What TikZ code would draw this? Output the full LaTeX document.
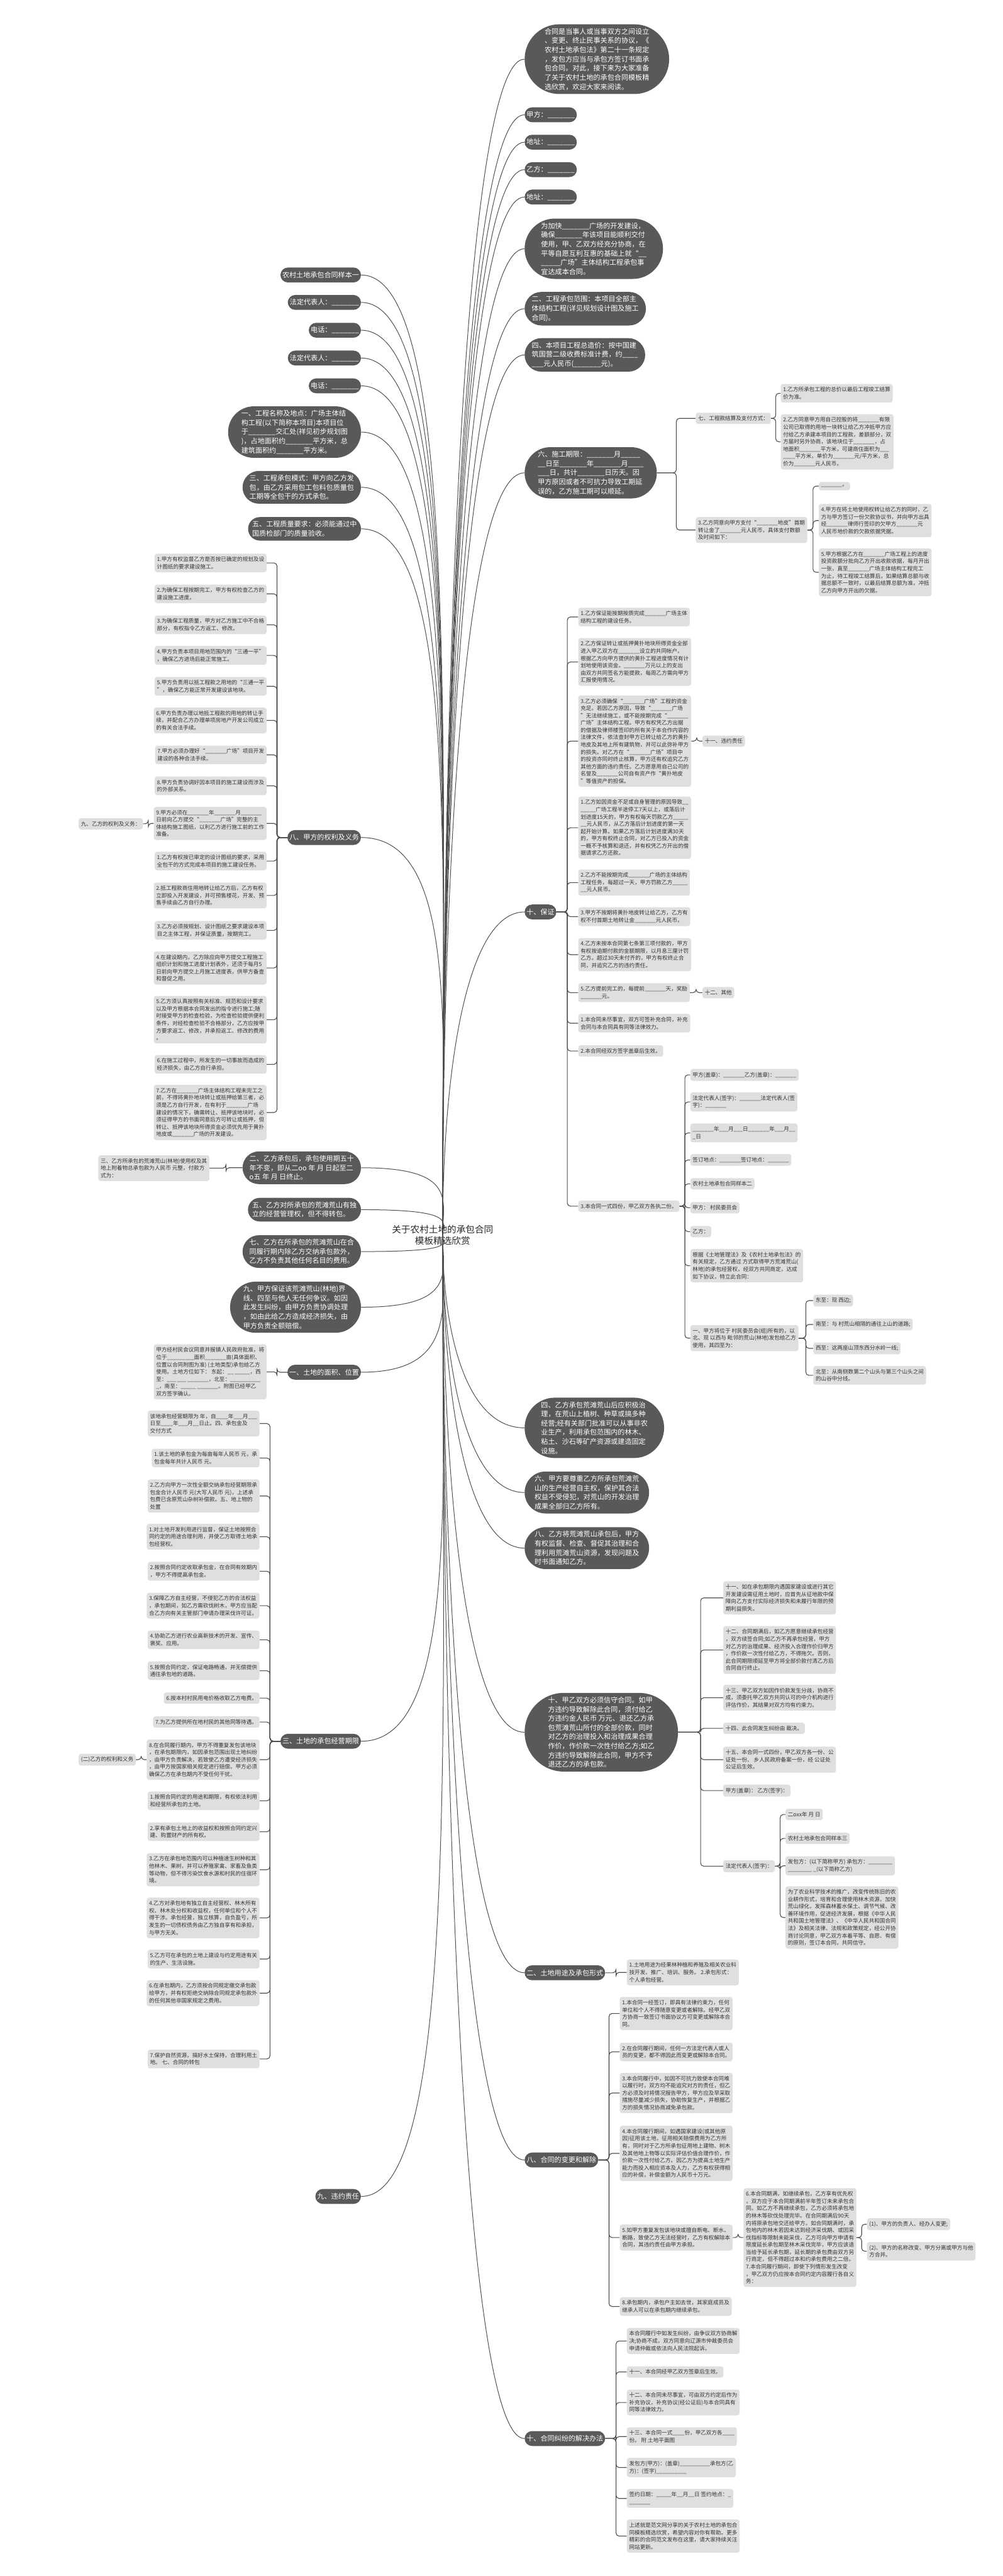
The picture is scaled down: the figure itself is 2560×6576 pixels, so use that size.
\documentclass[tikz,border=0pt]{standalone}
\usepackage{fontspec}
\setmainfont{Noto Sans CJK SC}
\usepackage{xcolor}
\definecolor{mapdark}{HTML}{595959}
\definecolor{mapleaf}{HTML}{DFDFDF}
\definecolor{mapline}{HTML}{4F4F4F}
\definecolor{maptext}{HTML}{333333}
\usepackage{tikz}
\usetikzlibrary{shapes.misc,calc,backgrounds}

\begin{document}
\catcode`\_=12
\begin{tikzpicture}[x=0.5pt,y=-0.5pt,
  rootnode/.style={align=center,text=black!85,font=\fontsize{11.75}{14}\selectfont},
  topic/.style={rounded rectangle,fill=mapdark,text=white,align=left,
    inner xsep=1.5pt,inner ysep=5pt,minimum height=19pt,
    font=\fontsize{8.9}{11.75}\selectfont},
  leaf/.style={rectangle,rounded corners=3pt,fill=mapleaf,text=maptext,
    align=left,inner xsep=3pt,inner ysep=4pt,font=\fontsize{6.9}{9.3}\selectfont},
  link/.style={draw=mapline,line width=0.9pt,rounded corners=4pt},
  rcurve/.style={draw=mapline,line width=0.8pt,to path={let \p1=(\tikztostart),\p2=(\tikztotarget) in
    .. controls (\x1,{0.5*\y1+0.5*\y2}) and ({\x2-75pt},\y2) .. (\tikztotarget)}},
  lcurve/.style={draw=mapline,line width=0.8pt,to path={let \p1=(\tikztostart),\p2=(\tikztotarget) in
    .. controls (\x1,{0.5*\y1+0.5*\y2}) and ({\x2+125pt},\y2) .. (\tikztotarget)}}]
\useasboundingbox (0,0) rectangle (2560,6576);

% centre
\node[rootnode] (root) at (1130,3153) {关于农村土地的承包合同\\模板精选欣赏};

% right topics
\node[topic,anchor=west] (r1) at (1339,151) {合同是当事人或当事双方之间设立\\、变更、终止民事关系的协议，《\\农村土地承包法》第二十一条规定\\，发包方应当与承包方签订书面承\\包合同。对此，接下来为大家准备\\了关于农村土地的承包合同模板精\\选欣赏，欢迎大家来阅读。};
\node[topic,anchor=west] (r2) at (1339,293) {甲方：_______};
\node[topic,anchor=west] (r3) at (1339,363) {地址：_______};
\node[topic,anchor=west] (r4) at (1339,433) {乙方：_______};
\node[topic,anchor=west] (r5) at (1339,503) {地址：_______};
\node[topic,anchor=west] (r6) at (1339,635) {为加快_______广场的开发建设，\\确保_______年该项目能顺利交付\\使用，甲、乙双方经充分协商，在\\平等自愿互利互惠的基础上就“__\\_____广场”主体结构工程承包事\\宜达成本合同。};
\node[topic,anchor=west] (r7) at (1339,788) {二、工程承包范围：本项目全部主\\体结构工程(详见规划设计图及施工\\合同)。};
\node[topic,anchor=west] (r8) at (1339,906) {四、本项目工程总造价：按中国建\\筑国营二级收费标准计费，约____\\___元人民币(_______元)。};
\node[topic,anchor=west] (r9) at (1339,1207) {六、施工期限：_______月_____\\__日至_______年_______月____\\___日，共计_______日历天。因\\甲方原因或者不可抗力导致工期延\\误的，乙方施工期可以顺延。};
\node[topic,anchor=west] (r10) at (1339,2328) {十、保证};
\node[topic,anchor=west] (r11) at (1339,3645) {四、乙方承包荒滩荒山后应积极治\\理，在荒山上植树、种草或搞多种\\经营;经有关部门批准可以从事非农\\业生产，利用承包范围内的林木、\\粘土、沙石等矿产资源或建造固定\\设施。};
\node[topic,anchor=west] (r12) at (1339,3810) {六、甲方要尊重乙方所承包荒滩荒\\山的生产经营自主权，保护其合法\\权益不受侵犯，对荒山的开发治理\\成果全部归乙方所有。};
\node[topic,anchor=west] (r13) at (1339,3952) {八、乙方将荒滩荒山承包后，甲方\\有权监督、检查、督促其治理和合\\理利用荒滩荒山资源，发现问题及\\时书面通知乙方。};
\node[topic,anchor=west] (r14) at (1339,4422) {十、甲乙双方必须信守合同。如甲\\方违约导致解除此合同，须付给乙\\方违约金人民币 万元、退还乙方承\\包荒滩荒山所付的全部价款，同时\\对乙方的治理投入和治理成果合理\\作价，作价款一次性付给乙方;如乙\\方违约导致解除此合同，甲方不予\\退还乙方的承包款。};
\node[topic,anchor=west] (r15) at (1339,5036) {二、土地用途及承包形式};
\node[topic,anchor=west] (r16) at (1339,5514) {八、合同的变更和解除};
\node[topic,anchor=west] (r17) at (1339,6225) {十、合同纠纷的解决办法};

% 六 children
\node[leaf,anchor=west] (r9a) at (1776,1068) {七、工程款结算及支付方式：};
\node[leaf,anchor=west] (r9a1) at (1993,1004) {1.乙方所承包工程的总价以最后工程竣工结算\\价为准。};
\node[leaf,anchor=west] (r9a2) at (1993,1128) {2.乙方同意甲方用自己控股的将_______有限\\公司已取得的用地一块转让给乙方冲抵甲方应\\付给乙方承建本项目的工程款，差额部分，双\\方届时另外协商，该地块位于_______，占\\地面积_______平方米，可建商住面积为___\\____平方米，单价为_______元/平方米，总\\价为_______元人民币。};
\node[leaf,anchor=west] (r9b) at (1776,1353) {3.乙方同意向甲方支付“_______地皮”首期\\转让金了_______元人民币，具体支付数额\\及时间如下：};
\node[leaf,anchor=west] (r9b1) at (2090,1241) {_______。};
\node[leaf,anchor=west] (r9b2) at (2090,1329) {4.甲方在将土地使用权转让给乙方的同时，乙\\方与甲方签订一份欠款协议书，并向甲方出具\\经_______律师行签印的欠甲方_______元\\人民币地价款的欠款依据凭据。};
\node[leaf,anchor=west] (r9b3) at (2090,1461) {5.甲方根据乙方在_______广场工程上的进度\\投资款额分批向乙方开出收款收据，每月开出\\一张，直至_______广场主体结构工程完工\\为止，待工程竣工结算后，如果结算总额与收\\据总额不一致时，以最后结算总额为准，冲抵\\乙方向甲方开出的欠据。};

% 十、保证 children
\node[leaf,anchor=west] (r10c1) at (1476,1575) {1.乙方保证能按期按质完成_______广场主体\\结构工程的建设任务。};
\node[leaf,anchor=west] (r10c2) at (1476,1690) {2.乙方保证转让或抵押黄扑地块所得资金全部\\进入甲乙双方在_______设立的共同帐户。\\根据乙方向甲方提供的黄扑工程进度情况有计\\划地使用该资金。_______万元以上的支出\\由双方共同签名方能提款，每周乙方需向甲方\\汇报使用情况。};
\node[leaf,anchor=west] (r10c3) at (1476,1892) {3.乙方必须确保“_______广场”工程的资金\\充足。若因乙方原因，导致“_______广场\\”无法继续施工，或不能按期完成“_______\\广场”主体结构工程。甲方有权凭乙方出据\\的借据及律师楼签印的所有关于本合作内容的\\法律文件，依法查封甲方已转让给乙方的黄扑\\地皮及其地上所有建筑物，并可以此弥补甲方\\的损失。对乙方在“_______广场”项目中\\的投资亦同时终止核算，甲方还有权追究乙方\\其他方面的违约责任。乙方愿意用自己公司的\\名誉及_______公司自有资产作“黄扑地皮\\”等值资产的担保。};
\node[leaf,anchor=west] (r10c3x) at (1793,1892) {十一、违约责任};
\node[leaf,anchor=west] (r10c4) at (1476,2113) {1.乙方如因资金不足或自身管理的原因导致__\\_____广场工程半途停工7天以上，或落后计\\划进度15天的，甲方有权每天罚款乙方_____\\__元人民币，从乙方落后计划进度的第一天\\起开始计算。如果乙方落后计划进度满30天\\的，甲方有权终止合同，对乙方已投入的资金\\一概不予核算和退还，并有权凭乙方开出的借\\据请求乙方还款。};
\node[leaf,anchor=west] (r10c5) at (1476,2253) {2.乙方不能按期完成_______广场的主体结构\\工程任务，每超过一天，甲方罚款乙方_____\\__元人民币。};
\node[leaf,anchor=west] (r10c6) at (1476,2340) {3.甲方不按期将黄扑地皮转让给乙方，乙方有\\权不付首期土地转让金_______元人民币。};
\node[leaf,anchor=west] (r10c7) at (1476,2437) {4.乙方未按本合同第七条第三项付款的，甲方\\有权按逾期付款的金额期限，以月息三厘计罚\\乙方。超过30天未付齐的，甲方有权终止合\\同，并追究乙方的违约责任。};
\node[leaf,anchor=west] (r10c8) at (1476,2534) {5.乙方提前完工的，每提前_______天，奖励\\_______元。};
\node[leaf,anchor=west] (r10c8x) at (1793,2534) {十二、其他};
\node[leaf,anchor=west] (r10c9) at (1476,2612) {1.本合同未尽事宜，双方可签补充合同，补充\\合同与本合同具有同等法律效力。};
\node[leaf,anchor=west] (r10c10) at (1476,2683) {2.本合同经双方签字盖章后生效。};
\node[leaf,anchor=west] (r10c11) at (1476,3079) {3.本合同一式四份，甲乙双方各执二份。};
\node[leaf,anchor=west] (r10d1) at (1762,2744) {甲方(盖章)：_______乙方(盖章)：_______};
\node[leaf,anchor=west] (r10d2) at (1762,2813) {法定代表人(签字)：_______法定代表人(签\\字)：_______};
\node[leaf,anchor=west] (r10d3) at (1762,2892) {_______年___月___日_______年___月__\\_日};
\node[leaf,anchor=west] (r10d4) at (1762,2961) {签订地点：_______签订地点：_______};
\node[leaf,anchor=west] (r10d5) at (1762,3022) {农村土地承包合同样本二};
\node[leaf,anchor=west] (r10d6) at (1762,3083) {甲方： 村民委员会};
\node[leaf,anchor=west] (r10d7) at (1762,3144) {乙方：};
\node[leaf,anchor=west] (r10d8) at (1762,3231) {根据《土地管理法》及《农村土地承包法》的\\有关规定，乙方通过 方式取得甲方荒滩荒山(\\林地)的承包经营权，经双方共同商定，达成\\如下协议，特立此合同：};
\node[leaf,anchor=west] (r10d9) at (1762,3416) {一、甲方将位于 村民委员会(组)所有的，以\\北、现 以西与 毗邻的荒山(林地)发包给乙方\\使用，其四至为：};
\node[leaf,anchor=west] (r10e1) at (2076,3320) {东至：现 西边;};
\node[leaf,anchor=west] (r10e2) at (2076,3381) {南至：与 村荒山相隔的通往上山的道路;};
\node[leaf,anchor=west] (r10e3) at (2076,3442) {西至：这两座山顶东西分水岭一线;};
\node[leaf,anchor=west] (r10e4) at (2076,3511) {北至：从南侧数第二个山头与第三个山头之间\\的山谷中分线。};

% 十、甲乙双方 children
\node[leaf,anchor=west] (r14c1) at (1846,4079) {十一、如在承包期限内遇国家建设或进行其它\\开发建设需征用土地时，应首先从征地款中保\\障向乙方支付实际经济损失和未履行年限的预\\期利益损失。};
\node[leaf,anchor=west] (r14c2) at (1846,4212) {十二、合同期满后，如乙方愿意继续承包经营\\，双方续签合同;如乙方不再承包经营，甲方\\对乙方的治理成果、经济投入合理作价归甲方\\，作价款一次性付给乙方，不得拖欠。否则，\\此合同期限顺延至甲方将全部价款付清乙方后\\合同自行终止。};
\node[leaf,anchor=west] (r14c3) at (1846,4334) {十三、甲乙双方如因作价款发生分歧，协商不\\成，须委托甲乙双方共同认可的中介机构进行\\评估作价，其结果对双方均有约束力。};
\node[leaf,anchor=west] (r14c4) at (1846,4412) {十四、此合同发生纠纷由 裁决。};
\node[leaf,anchor=west] (r14c5) at (1846,4492) {十五、本合同一式四份，甲乙双方各一份、公\\证处一份、 乡人民政府备案一份，经 公证处\\公证后生效。};
\node[leaf,anchor=west] (r14c6) at (1846,4571) {甲方(盖章)： 乙方(签字)：};
\node[leaf,anchor=west] (r14c7) at (1846,4764) {法定代表人(签字)：};
\node[leaf,anchor=west] (r14d1) at (2005,4632) {二oxx年 月 日};
\node[leaf,anchor=west] (r14d2) at (2005,4693) {农村土地承包合同样本三};
\node[leaf,anchor=west] (r14d3) at (2005,4763) {发包方：(以下简称甲方) 承包方：________\\________ _(以下简称乙方)};
\node[leaf,anchor=west] (r14d4) at (2005,4895) {为了农业科学技术的推广，改变传统陈旧的农\\业耕作形式，培育和合理使用林木资源，加快\\荒山绿化，发挥森林蓄水保土、调节气候、改\\善环境作用，促进经济发展，根据《中华人民\\共和国土地管理法》、《中华人民共和国合同\\法》及相关法律、法规和政策规定，经公开协\\商讨论同意，甲乙双方本着平等、自愿、有偿\\的原则，签订本合同，共同信守。};

% 二、土地用途 child
\node[leaf,anchor=west] (r15c1) at (1600,5035) {1.土地用途为经果林种植和养殖及相关农业科\\技开发、推广、培训、服务。 2.承包形式：\\个人承包经营。};

% 八、合同的变更和解除 children
\node[leaf,anchor=west] (r16c1) at (1582,5140) {1.本合同一经签订，即具有法律约束力，任何\\单位和个人不得随意变更或者解除。经甲乙双\\方协商一致签订书面协议方可变更或解除本合\\同。};
\node[leaf,anchor=west] (r16c2) at (1582,5238) {2.在合同履行期间，任何一方法定代表人或人\\员的变更，都不得因此而变更或解除本合同。};
\node[leaf,anchor=west] (r16c3) at (1582,5343) {3.本合同履行中，如因不可抗力致使本合同难\\以履行时，双方均不能追究对方的责任，但乙\\方必须及时将情况报告甲方，甲方应及早采取\\措施尽量减少损失，协助恢复生产，并根据乙\\方的损失情况协商减免承包款。};
\node[leaf,anchor=west] (r16c4) at (1582,5497) {4.本合同履行期间，如遇国家建设(或其他原\\因)征用该土地，征用相关赔偿费用为乙方所\\有，同时对于乙方所承包征用地上建物、树木\\及其他地上物等以实际评估价值合理作价，作\\价款一次性付给乙方。因乙方为提高土地生产\\能力而投入相应资本及人力，乙方有权获得相\\应的补偿，补偿金额为人民币十万元。};
\node[leaf,anchor=west] (r16c5) at (1582,5712) {5.如甲方重复发包该地块或擅自断电、断水、\\断路，致使乙方无法经营时，乙方有权解除本\\合同，其违约责任由甲方承担。};
\node[leaf,anchor=west] (r16c5x) at (1898,5712) {6.本合同期满，如继续承包，乙方享有优先权\\，双方应于本合同期满前半年签订未来承包合\\同。如乙方不再继续承包，乙方必须将承包地\\的林木等砍伐处理完毕。在合同期满后90天\\内将原承包地交还给甲方。如合同期满时，承\\包地内的林木若因未达到经济采伐期、或因采\\伐指标等限制未能采伐，乙方可向甲方申请有\\限度延长承包期至林木采伐完毕，甲方应该适\\当给予延长承包期，延长期的承包费由双方另\\行商定，但不得超过本和约承包费用之二倍。\\ 7.本合同履行期间，即使下列情形发生改变\\，甲乙双方仍应按本合同约定内容履行各自义\\务：};
\node[leaf,anchor=west] (r16d1) at (2213,5678) {(1)、甲方的负责人、经办人变更;};
\node[leaf,anchor=west] (r16d2) at (2213,5747) {(2)、甲方的名称改变、甲方分离或甲方与他\\方合并。};
\node[leaf,anchor=west] (r16c6) at (1582,5888) {8.承包期内，承包户主如去世，其家庭成员及\\继承人可以在承包期内继续承包。};

% 十、合同纠纷 children
\node[leaf,anchor=west] (r17c1) at (1600,5976) {本合同履行中如发生纠纷，由争议双方协商解\\决;协商不成，双方同意向辽源市仲裁委员会\\申请仲裁或依法向人民法院起诉。};
\node[leaf,anchor=west] (r17c2) at (1600,6055) {十一、本合同经甲乙双方签章后生效。};
\node[leaf,anchor=west] (r17c3) at (1600,6133) {十二、本合同未尽事宜，可由双方约定后作为\\补充协议，补充协议(经公证后)与本合同具有\\同等法律效力。};
\node[leaf,anchor=west] (r17c4) at (1600,6220) {十三、本合同一式____份，甲乙双方各____\\份。 附 土地平面图};
\node[leaf,anchor=west] (r17c5) at (1600,6299) {发包方(甲方)：(盖章)__________承包方(乙\\方)：(签字)__________};
\node[leaf,anchor=west] (r17c6) at (1600,6378) {签约日期：_____年__月__日 签约地点：_\\_______};
\node[leaf,anchor=west] (r17c7) at (1600,6474) {上述就是范文网分享的关于农村土地的承包合\\同模板精选欣赏，希望内容对你有帮助。更多\\精彩的合同范文发布在这里，请大家持续关注\\网站更新。};

% left topics
\node[topic,anchor=east] (l1) at (922,702) {农村土地承包合同样本一};
\node[topic,anchor=east] (l2) at (922,772) {法定代表人：_______};
\node[topic,anchor=east] (l3) at (922,843) {电话：_______};
\node[topic,anchor=east] (l4) at (922,914) {法定代表人：_______};
\node[topic,anchor=east] (l5) at (922,985) {电话：_______};
\node[topic,anchor=east] (l6) at (922,1103) {一、工程名称及地点：广场主体结\\构工程(以下简称本项目)本项目位\\于_______交汇处(祥见初步规划图\\)，占地面积约_______平方米，总\\建筑面积约_______平方米。};
\node[topic,anchor=east] (l7) at (922,1244) {三、工程承包模式：甲方向乙方发\\包，由乙方采用包工包料包质量包\\工期等全包干的方式承包。};
\node[topic,anchor=east] (l8) at (922,1350) {五、工程质量要求：必须能通过中\\国质检部门的质量验收。};
\node[topic,anchor=east] (l9) at (922,2138) {八、甲方的权利及义务};
\node[topic,anchor=east] (l10) at (922,2981) {二、乙方承包后，承包使用期五十\\年不变，即从二oo 年 月 日起至二\\o五 年 月 日终止。};
\node[topic,anchor=east] (l11) at (922,3088) {五、乙方对所承包的荒滩荒山有独\\立的经营管理权，但不得转包。};
\node[topic,anchor=east] (l12) at (922,3195) {七、乙方在所承包的荒滩荒山在合\\同履行期内除乙方交纳承包款外，\\乙方不负责其他任何名目的费用。};
\node[topic,anchor=east] (l13) at (922,3337) {九、甲方保证该荒滩荒山(林地)界\\线、四至与他人无任何争议。如因\\此发生纠纷，由甲方负责协调处理\\，如由此给乙方造成经济损失，由\\甲方负责全额赔偿。};
\node[topic,anchor=east] (l14) at (922,3503) {一、土地的面积、位置};
\node[topic,anchor=east] (l15) at (922,4445) {三、土地的承包经营期限};
\node[topic,anchor=east] (l16) at (922,5607) {九、违约责任};

% 八、甲方的权利及义务 children
\node[leaf,anchor=east] (l9c1) at (681,1437) {1.甲方有权监督乙方是否按已确定的规划及设\\计图纸的要求建设施工。};
\node[leaf,anchor=east] (l9c2) at (681,1516) {2.为确保工程按期完工，甲方有权检查乙方的\\建设施工进度。};
\node[leaf,anchor=east] (l9c3) at (681,1595) {3.为确保工程质量，甲方对乙方施工中不合格\\部分，有权指令乙方返工、修改。};
\node[leaf,anchor=east] (l9c4) at (681,1673) {4.甲方负责本项目用地范围内的“三通一平”\\，确保乙方进场后能正常施工。};
\node[leaf,anchor=east] (l9c5) at (681,1752) {5.甲方负责用以抵工程款之用地的“三通一平\\”，确保乙方能正常开发建设该地块。};
\node[leaf,anchor=east] (l9c6) at (681,1839) {6.甲方负责办理以地抵工程款的用地的转让手\\续，并配合乙方办理单项房地产开发公司成立\\的有关合法手续。};
\node[leaf,anchor=east] (l9c7) at (681,1927) {7.甲方必须办理好“_______广场”项目开发\\建设的各种合法手续。};
\node[leaf,anchor=east] (l9c8) at (681,2006) {8.甲方负责协调好因本项目的施工建设而涉及\\的外部关系。};
\node[leaf,anchor=east] (l9c9) at (681,2102) {9.甲方必须在_______年_______月_______\\日前向乙方提交“_______广场”完整的主\\体结构施工图纸，以利乙方进行施工前的工作\\准备。};
\node[leaf,anchor=east] (l9c9x) at (365,2103) {九、乙方的权利及义务：};
\node[leaf,anchor=east] (l9c10) at (681,2198) {1.乙方有权按已审定的设计图纸的要求，采用\\全包干的方式完成本项目的施工建设任务。};
\node[leaf,anchor=east] (l9c11) at (681,2286) {2.抵工程款商住用地转让给乙方后，乙方有权\\立即投入开发建设，并可预售楼花，开发、预\\售手续由乙方自行办理。};
\node[leaf,anchor=east] (l9c12) at (681,2375) {3.乙方必须按规划、设计图纸之要求建设本项\\目之主体工程，并保证质量，按期完工。};
\node[leaf,anchor=east] (l9c13) at (681,2471) {4.在建设期内，乙方除应向甲方提交工程施工\\组织计划和施工进度计划表外，还须于每月5\\日前向甲方提交上月施工进度表，供甲方备查\\和督促之用。};
\node[leaf,anchor=east] (l9c14) at (681,2603) {5.乙方须认真按照有关标准、规范和设计要求\\以及甲方根据本合同发出的指令进行施工;随\\时接受甲方的检查检验，为检查检验提供便利\\条件，对经检查检验不合格部分，乙方应按甲\\方要求返工、修改，并承担返工、修改的费用\\。};
\node[leaf,anchor=east] (l9c15) at (681,2717) {6.在施工过程中，所发生的一切事故而造成的\\经济损失，由乙方自行承担。};
\node[leaf,anchor=east] (l9c16) at (681,2840) {7.乙方在_______广场主体结构工程未完工之\\前，不得将黄扑地块转让或抵押给第三者，必\\须是乙方自行开发，在有利于_______广场\\建设的情况下，确需转让、抵押该地块时，必\\须征得甲方的书面同意后方可转让或抵押，但\\转让、抵押该地块所得资金必须优先用于黄扑\\地皮或_______广场的开发建设。};

% single children
\node[leaf,anchor=east] (l10x) at (535,2982) {三、乙方所承包的荒滩荒山(林地)使用权及其\\地上附着物总承包款为人民币 元整，付款方\\式为：};
\node[leaf,anchor=east] (l14x) at (681,3502) {甲方经村民会议同意并报镇人民政府批准，将\\位于_________面积_______亩(具体面积、\\位置以合同附图为准) (土地类型)承包给乙方\\使用。土地方位如下： 东起：__ _____，西\\至：___ ___ _______，北至：__________\\_，南至：_____ _______。附图已经甲乙\\双方签字确认。};

% 三、土地的承包经营期限 children
\node[leaf,anchor=east] (l15c1) at (663,3634) {该地承包经营期限为 年，自____年___月___\\日至____年___月__日止。四、承包金及\\交付方式};
\node[leaf,anchor=east] (l15c2) at (663,3722) {1.该土地的承包金为每亩每年人民币 元，承\\包金每年共计人民币 元。};
\node[leaf,anchor=east] (l15c3) at (663,3819) {2.乙方向甲方一次性全额交纳承包经营期限承\\包金合计人民币 元(大写人民币 元)，上述承\\包费已含原荒山杂树补偿款。五、地上物的\\处置};
\node[leaf,anchor=east] (l15c4) at (663,3923) {1.对土地开发利用进行监督，保证土地按照合\\同约定的用途合理利用，并使乙方取得土地承\\包经营权。};
\node[leaf,anchor=east] (l15c5) at (663,4011) {2.按照合同约定收取承包金，在合同有效期内\\，甲方不得提高承包金。};
\node[leaf,anchor=east] (l15c6) at (663,4099) {3.保障乙方自主经营，不侵犯乙方的合法权益\\，承包期间，如乙方需砍伐树木，甲方应当配\\合乙方向有关主管部门申请办理采伐许可证。};
\node[leaf,anchor=east] (l15c7) at (663,4186) {4.协助乙方进行农业高新技术的开发、宣传、\\褒奖、应用。};
\node[leaf,anchor=east] (l15c8) at (663,4265) {5.按照合同约定，保证电路畅通，并无偿提供\\通往承包地的道路。};
\node[leaf,anchor=east] (l15c9) at (663,4335) {6.按本村村民用电价格收取乙方电费。};
\node[leaf,anchor=east] (l15c10) at (663,4396) {7.为乙方提供所在地村民的其他同等待遇。};
\node[leaf,anchor=east] (l15c11) at (663,4492) {8.在合同履行期内，甲方不得重复发包该地块\\，在承包期限内，如因承包范围出现土地纠纷\\，由甲方负责解决，若致使乙方遭受经济损失\\，由甲方按国家相关规定进行赔偿。甲方必须\\确保乙方在承包期内不受任何干扰。};
\node[leaf,anchor=east] (l15c11x) at (347,4492) {(二)乙方的权利和义务};
\node[leaf,anchor=east] (l15c12) at (663,4597) {1.按照合同约定的用途和期限，有权依法利用\\和经营所承包的土地。};
\node[leaf,anchor=east] (l15c13) at (663,4676) {2.享有承包土地上的收益权和按照合同约定兴\\建、购置财产的所有权。};
\node[leaf,anchor=east] (l15c14) at (663,4773) {3.乙方在承包地范围内可以种植速生树种和其\\他林木、果树，并可以养殖家禽、家畜及鱼类\\等动物，但不得污染饮食水源和村民的住宿环\\境。};
\node[leaf,anchor=east] (l15c15) at (663,4896) {4.乙方对承包地有独立自主经营权、林木所有\\权、林木处分权和收益权，任何单位和个人不\\得干涉。承包经营，独立核算，自负盈亏，所\\发生的一切债权债务由乙方独自享有和承担，\\与甲方无关。};
\node[leaf,anchor=east] (l15c16) at (663,5001) {5.乙方可在承包的土地上建设与约定用途有关\\的生产、生活设施。};
\node[leaf,anchor=east] (l15c17) at (663,5088) {6.在承包期内，乙方须按合同规定缴交承包款\\给甲方，并有权拒绝交纳除合同规定承包款外\\的任何其他非国家规定之费用。};
\node[leaf,anchor=east] (l15c18) at (663,5256) {7.保护自然资源，搞好水土保持，合理利用土\\地。 七、合同的转包};

% connectors
\begin{scope}[on background layer]
  \foreach \i in {1,...,17} \draw[rcurve] (root.center) to (r\i.west);
  \foreach \i in {1,...,16} \draw[lcurve] (root.center) to (l\i.east);
  % right lists
  \foreach \p/\c in {r9/r9a,r9/r9b,r9a/r9a1,r9a/r9a2,r9b/r9b1,r9b/r9b2,r9b/r9b3,
      r10/r10c1,r10/r10c2,r10/r10c3,r10/r10c4,r10/r10c5,r10/r10c6,r10/r10c7,
      r10/r10c8,r10/r10c9,r10/r10c10,r10/r10c11,r10c3/r10c3x,r10c8/r10c8x,
      r10c11/r10d1,r10c11/r10d2,r10c11/r10d3,r10c11/r10d4,r10c11/r10d5,
      r10c11/r10d6,r10c11/r10d7,r10c11/r10d8,r10c11/r10d9,
      r10d9/r10e1,r10d9/r10e2,r10d9/r10e3,r10d9/r10e4,
      r14/r14c1,r14/r14c2,r14/r14c3,r14/r14c4,r14/r14c5,r14/r14c6,r14/r14c7,
      r14c7/r14d1,r14c7/r14d2,r14c7/r14d3,r14c7/r14d4,r15/r15c1,
      r16/r16c1,r16/r16c2,r16/r16c3,r16/r16c4,r16/r16c5,r16/r16c6,
      r16c5/r16c5x,r16c5x/r16d1,r16c5x/r16d2,
      r17/r17c1,r17/r17c2,r17/r17c3,r17/r17c4,r17/r17c5,r17/r17c6,r17/r17c7}
    \draw[link] (\p.east) -- ($(\p.east)!.5!(\p.east -| \c.west)$) |- (\c.west);
  % left lists
  \foreach \p/\c in {l9/l9c1,l9/l9c2,l9/l9c3,l9/l9c4,l9/l9c5,l9/l9c6,l9/l9c7,
      l9/l9c8,l9/l9c9,l9/l9c10,l9/l9c11,l9/l9c12,l9/l9c13,l9/l9c14,l9/l9c15,
      l9/l9c16,l9c9/l9c9x,l10/l10x,l14/l14x,
      l15/l15c1,l15/l15c2,l15/l15c3,l15/l15c4,l15/l15c5,l15/l15c6,l15/l15c7,
      l15/l15c8,l15/l15c9,l15/l15c10,l15/l15c11,l15/l15c12,l15/l15c13,
      l15/l15c14,l15/l15c15,l15/l15c16,l15/l15c17,l15/l15c18,l15c11/l15c11x}
    \draw[link] (\p.west) -- ($(\p.west)!.5!(\p.west -| \c.east)$) |- (\c.east);
\end{scope}
\end{tikzpicture}
\end{document}
